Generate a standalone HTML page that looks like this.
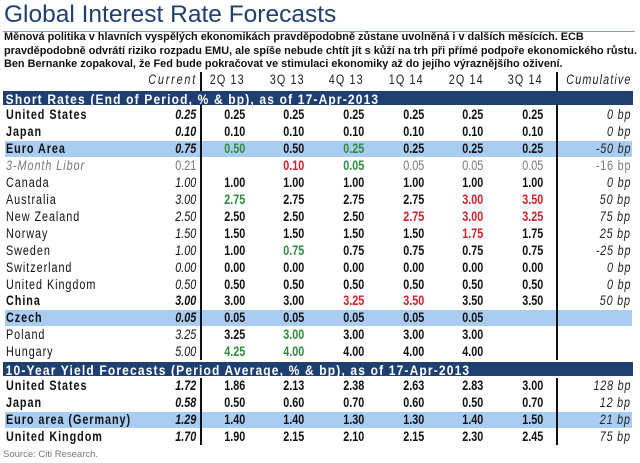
<!DOCTYPE html>
<html><head><meta charset="utf-8">
<style>
body{margin:0;background:#fff;}
#root{position:relative;width:640px;height:463px;overflow:hidden;background:#fff;font-family:"Liberation Sans",sans-serif;}
.t{position:absolute;white-space:nowrap;}
.c{position:absolute;white-space:nowrap;font-size:13.5px;font-weight:bold;color:#111;line-height:16px;transform:scaleX(0.8);transform-origin:right center;}
.lab{letter-spacing:1.2px;transform-origin:left center;}
.hl{position:absolute;left:5px;width:627px;height:16px;background:#a9cdf2;}
.bar{position:absolute;left:3px;width:630px;height:14px;background:#1f3f70;overflow:hidden;}
.bar span{display:inline-block;color:#fff;font-weight:bold;font-size:13.5px;line-height:14px;letter-spacing:1.3px;padding-left:3px;transform:scaleX(0.89);transform-origin:left center;white-space:nowrap;}
</style></head><body>
<div id="root">
<div class="t" style="left:4px;top:1px;font-size:24.5px;color:#1f3f70;">Global Interest Rate Forecasts</div>
<div style="position:absolute;left:3px;top:31px;width:632px;height:1px;background:#8a9bb5;"></div>
<div class="t" style="left:4px;top:31px;font-size:11px;font-weight:bold;line-height:13.7px;color:#111;transform:scaleX(0.99);transform-origin:left top;">Měnová politika v hlavních vyspělých ekonomikách pravděpodobně zůstane uvolněná i v dalších měsících. ECB<br>pravděpodobně odvrátí riziko rozpadu EMU, ale spíše nebude chtít jít s kůží na trh při přímé podpoře ekonomického růstu.<br>Ben Bernanke zopakoval, že Fed bude pokračovat ve stimulaci ekonomiky až do jejího výraznějšího oživení.</div>
<div class="t" style="left:3px;top:449px;font-size:9.5px;color:#777;">Source: Citi Research.</div>
</div>
<script>
const periods=["2Q 13","3Q 13","4Q 13","1Q 14","2Q 14","3Q 14"];
const countries=["United States","Japan","Euro Area","3-Month Libor","Canada","Australia","New Zealand","Norway","Sweden","Switzerland","United Kingdom","China","Czech","Poland","Hungary","US10","JP10","EU10","UK10"];
const current=["0.25","0.10","0.75","0.21","1.00","3.00","2.50","1.50","1.00","0.00","0.50","3.00","0.05","3.25","5.00","1.72","0.58","1.29","1.70"];
const forecasts=[
["0.25","0.25","0.25","0.25","0.25","0.25"],
["0.10","0.10","0.10","0.10","0.10","0.10"],
["0.50","0.50","0.25","0.25","0.25","0.25"],
["","0.10","0.05","0.05","0.05","0.05"],
["1.00","1.00","1.00","1.00","1.00","1.00"],
["2.75","2.75","2.75","2.75","3.00","3.50"],
["2.50","2.50","2.50","2.75","3.00","3.25"],
["1.50","1.50","1.50","1.50","1.75","1.75"],
["1.00","0.75","0.75","0.75","0.75","0.75"],
["0.00","0.00","0.00","0.00","0.00","0.00"],
["0.50","0.50","0.50","0.50","0.50","0.50"],
["3.00","3.00","3.25","3.50","3.50","3.50"],
["0.05","0.05","0.05","0.05","0.05",""],
["3.25","3.00","3.00","3.00","3.00",""],
["4.25","4.00","4.00","4.00","4.00",""],
["1.86","2.13","2.38","2.63","2.83","3.00"],
["0.50","0.60","0.70","0.60","0.50","0.70"],
["1.40","1.40","1.30","1.30","1.40","1.50"],
["1.90","2.15","2.10","2.15","2.30","2.45"]];
const colorCodes=[
"kkkkkk","kkkkkk","gkgkkk","-rgzzz","kkkkkk","gkkkrr","kkkrrr","kkkkrk","kgkkkk","kkkkkk","kkkkkk","kkrrkk","kkkkk-","kgkkk-","ggkkk-","kkkkkk","kkkkkk","kkkkkk","kkkkkk"];
const cumulative=["0 bp","0 bp","-50 bp","-16 bp","0 bp","50 bp","75 bp","25 bp","-25 bp","0 bp","0 bp","50 bp","","","","128 bp","12 bp","21 bp","75 bp"];
const labels=["United States","Japan","Euro Area","3-Month Libor","Canada","Australia","New Zealand","Norway","Sweden","Switzerland","United Kingdom","China","Czech","Poland","Hungary","United States","Japan","Euro area (Germany)","United Kingdom"];
const highlighted=[2,12,17];
const boldLabel=[0,1,2,11,12,15,16,17,18];
const colMap={k:"#111",g:"#2e8b3e",r:"#d0202a",z:"#777"};
const R=document.getElementById('root');
const rowY=i=>{const k=i<15?i:i+1;return 107+k*16.95;};
const colX=j=>245+j*59.6;
function mk(cls,txt,css){const d=document.createElement('div');d.className=cls;d.textContent=txt;d.style.cssText=css;R.appendChild(d);return d;}
highlighted.forEach(i=>{const d=mk('hl','','top:'+rowY(i)+'px;');

});
let h=mk('c','Current','right:443px;top:72px;font-style:italic;letter-spacing:2.3px;font-weight:normal;color:#222;');


periods.forEach((p,j)=>{const e=mk('c',p,'right:'+(640-colX(j))+'px;top:72px;letter-spacing:1.4px;font-weight:normal;color:#222;');

});
h=mk('c','Cumulative','right:8px;top:72px;font-style:italic;letter-spacing:1.4px;font-weight:normal;color:#222;');


labels.forEach((l,i)=>{
 const y=rowY(i);const isLibor=i===3;const bold=boldLabel.includes(i);
 let e=mk('c lab',l,'left:6px;top:'+y+'px;'+(bold?'':'font-weight:normal;')+(isLibor?'font-style:italic;color:#777;':''));
 
 
 e=mk('c',current[i],'right:444px;top:'+y+'px;'+(isLibor?'font-weight:normal;color:#777;':'font-style:italic;')+(bold?'':'font-weight:normal;'));
 
 
 forecasts[i].forEach((v,j)=>{if(!v)return;const cc=colorCodes[i][j];
  const f=mk('c',v,'right:'+(640-colX(j))+'px;top:'+y+'px;color:'+colMap[cc]+';'+(cc==='z'?'font-weight:normal;':''));
  
  });
 if(cumulative[i]){e=mk('c',cumulative[i],'right:9px;top:'+y+'px;font-style:italic;font-weight:normal;letter-spacing:1px;'+(isLibor?'font-style:normal;color:#777;':'color:#222;'));
 
 }
});
function bar(txt,top,name){const d=document.createElement('div');d.className='bar';d.style.top=top+'px';
const s=document.createElement('span');s.textContent=txt;d.appendChild(s);R.appendChild(d);

}
[[200,72,rowY(14)+16],[200,rowY(15),rowY(18)+16],[556,72,rowY(14)+16],[556,rowY(15),rowY(18)+16]].forEach(a=>{
 const d=mk('','','position:absolute;left:'+a[0]+'px;top:'+a[1]+'px;width:2px;height:'+(a[2]-a[1])+'px;background:#111;');
 
 });
bar('Short Rates (End of Period, % & bp), as of 17-Apr-2013',91,'short-rates-header');
bar('10-Year Yield Forecasts (Period Average, % & bp), as of 17-Apr-2013',rowY(15)-16,'ten-year-header');
</script>
</body></html>
